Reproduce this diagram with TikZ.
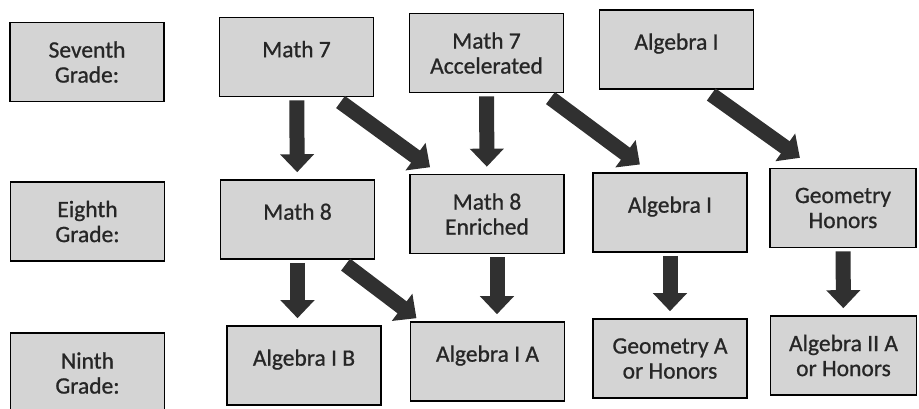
\documentclass[tikz,border=0pt]{standalone}
\usepackage{fontspec}
\setmainfont{Carlito}
\newfontfamily\scanfont{Carlito}[UprightFeatures={FakeBold=0.8}]
\usetikzlibrary{arrows.meta,positioning}
\definecolor{boxgray}{RGB}{212,212,212}
\definecolor{arrowgray}{RGB}{48,48,48}

\begin{document}
\begin{tikzpicture}[x=1pt,y=-1pt,
  course/.style={draw=black,line width=1.6pt,fill=boxgray,minimum width=154pt,minimum height=79pt,
    inner sep=2pt,align=center,text=black!85,font=\scanfont\fontsize{23.5}{25}\selectfont},
  oneline/.style={text depth=16pt},
  flow/.style={draw=arrowgray,line width=15pt,-{Triangle[width=33pt,length=18pt]},shorten <=3pt}]
\useasboundingbox (0,0) rectangle (919,408);
\clip (0,0) rectangle (919,408);
% seventh grade row
\node[course] (g7) at (87,62) {Seventh\\Grade:};
\node[course,oneline] (m7) at (296.5,57) {Math 7};
\node[course] (m7a) at (486.5,53) {Math 7\\Accelerated};
\node[course,oneline] (a7) at (676.5,49.5) {Algebra I};
% eighth grade row
\node[course] (g8) at (87.5,221.5) {Eighth\\Grade:};
\node[course,oneline] (m8) at (297.5,219.5) {Math 8};
\node[course] (m8e) at (487,214) {Math 8\\Enriched};
\node[course,oneline] (a8) at (670,212.5) {Algebra I};
\node[course,minimum width=146pt] (geo8) at (843,208) {Geometry\\Honors};
% ninth grade row
\node[course,minimum height=80pt] (g9) at (87.5,373) {Ninth\\Grade:};
\node[course,oneline] (a9b) at (304,365.5) {Algebra I B};
\node[course,oneline] (a9a) at (487.5,361.5) {Algebra I A};
\node[course] (geo9) at (670,358.5) {Geometry A\\or Honors};
\node[course,minimum width=146pt] (alg2) at (843.5,355.5) {Algebra II A\\or Honors};
% paths
\draw[flow,shorten >=7pt] (m7) -- (m8);
\draw[flow,shorten <=8pt,shorten >=11pt] (m7.-47) -- (m8e.140);
\draw[flow,shorten >=7pt] (m7a) -- (m8e);
\draw[flow,shorten <=8pt,shorten >=13pt] (m7a.-35) -- (a8.116);
\draw[flow,shorten <=8pt,shorten >=17pt] (a7.-55) -- (geo8.126);
\draw[flow,shorten >=7pt] (m8.south) -- (m8.south |- a9b.north);
\draw[flow,shorten <=8pt,shorten >=5pt] (m8.-44) -- (a9a.149);
\draw[flow,shorten >=7pt] ([xshift=10pt]m8e.south) -- ([xshift=10pt]m8e.south |- a9a.north);
\draw[flow,shorten >=7pt] (a8) -- (geo9);
\draw[flow,shorten >=7pt] (geo8) -- (alg2);
\end{tikzpicture}
\end{document}
